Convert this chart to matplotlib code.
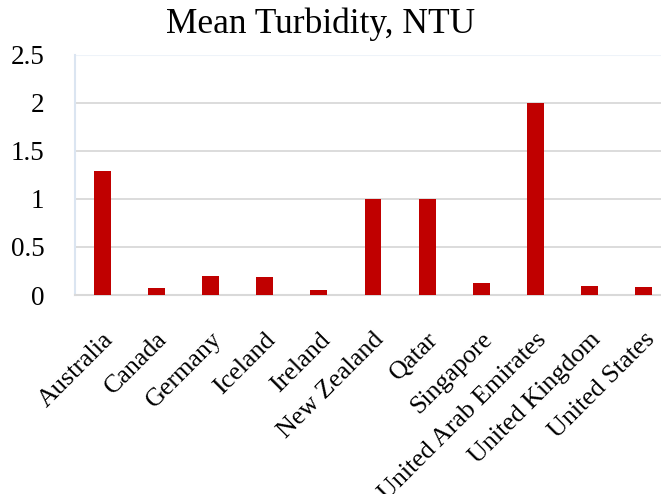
import matplotlib
matplotlib.use("Agg")
import matplotlib.pyplot as plt
import numpy as np

countries = ["Australia", "Canada", "Germany", "Iceland", "Ireland",
             "New Zealand", "Qatar", "Singapore", "United Arab Emirates",
             "United Kingdom", "United States"]
turbidity = [1.29, 0.07, 0.20, 0.19, 0.05, 1.0, 1.0, 0.12, 2.0, 0.09, 0.08]
y_ticks = [0, 0.5, 1, 1.5, 2, 2.5]
y_tick_labels = ["0", "0.5", "1", "1.5", "2", "2.5"]

plt.rcParams["font.family"] = ["Liberation Serif", "DejaVu Serif"]

fig = plt.figure(figsize=(6.61, 4.94), dpi=100)
ax = fig.add_axes([0.1135, 0.4028, 0.9015, 0.486])

x = np.arange(len(countries))
ax.bar(x, turbidity, width=0.31, color="#c00000", zorder=3)

ax.set_xlim(-0.5, len(countries) - 0.5)
ax.set_ylim(0, 2.5)
ax.set_yticks(y_ticks)
ax.set_yticklabels(y_tick_labels, fontsize=19.5)
ax.set_xticks(x)
ax.set_xticklabels(countries, rotation=45, ha="right", rotation_mode="anchor",
                   fontsize=18.7)
ax.tick_params(axis="both", length=0)
ax.tick_params(axis="y", pad=22)
ax.tick_params(axis="x", pad=24)

# horizontal gridlines
for v in y_ticks[1:-1]:
    ax.axhline(v, color="#d9d9d9", lw=1.3, zorder=1)
ax.axhline(2.5, color="#eef3f9", lw=1.5, zorder=1)

for side in ["top", "right"]:
    ax.spines[side].set_visible(False)
ax.spines["left"].set_color("#dbe5f1")
ax.spines["left"].set_linewidth(1.5)
ax.spines["bottom"].set_color("#d9d9d9")
ax.spines["bottom"].set_linewidth(1.5)

fig.text(0.485, 0.951, "Mean Turbidity, NTU", ha="center", va="center",
         fontsize=25.5)

fig.savefig("out.png", dpi=100)
